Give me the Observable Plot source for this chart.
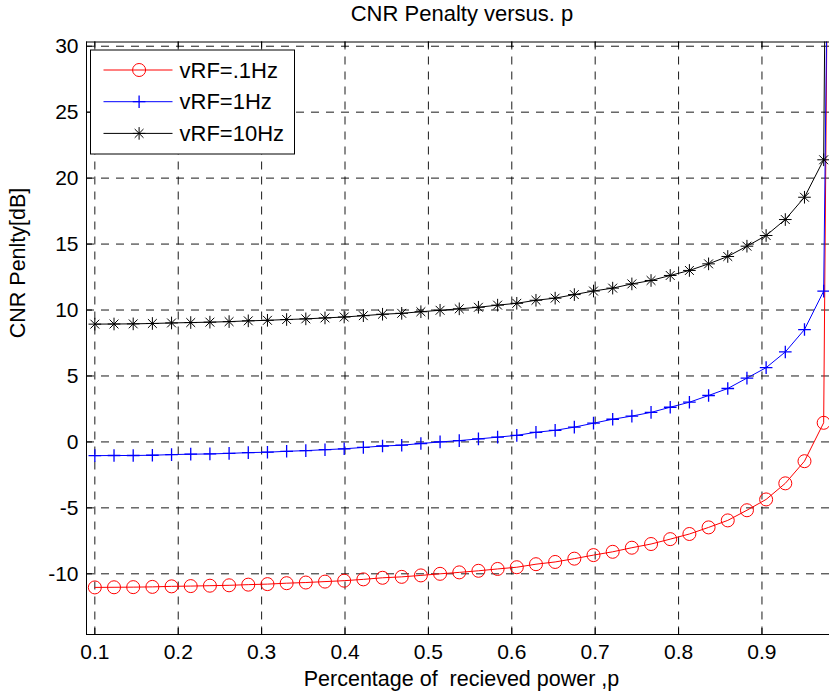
<!DOCTYPE html>
<html>
<head>
<meta charset="utf-8">
<style>
  html, body { margin: 0; padding: 0; background: #fff; overflow: hidden; }
  #title { height: 30px; line-height: 28px; box-sizing: border-box; padding-left: 95px; width: 829px;
           text-align: center; font-family: "Liberation Sans", Arial, sans-serif; font-size: 22px; color: #000; }
  svg text { white-space: pre; }
</style>
<script src="https://cdn.jsdelivr.net/npm/d3@7"></script>
<script src="https://cdn.jsdelivr.net/npm/@observablehq/plot@0.6"></script>
</head>
<body>
<div id="title">CNR Penalty versus. p</div>
<div id="chart"></div>
<script>
// ---- data ----
const p = [0.1, 0.123, 0.146, 0.169, 0.192, 0.215, 0.238, 0.261, 0.284, 0.307,
           0.33, 0.353, 0.376, 0.399, 0.422, 0.445, 0.468, 0.491, 0.514, 0.537,
           0.56, 0.583, 0.606, 0.629, 0.652, 0.675, 0.698, 0.721, 0.744, 0.767,
           0.79, 0.813, 0.836, 0.859, 0.882, 0.905, 0.928, 0.951, 0.974, 0.997];
const seriesNames = ["vRF=.1Hz", "vRF=1Hz", "vRF=10Hz"];
const vRF01 = [-11.03, -11.02, -11.01, -10.99, -10.95, -10.93, -10.9, -10.87, -10.82, -10.78,
               -10.71, -10.66, -10.59, -10.52, -10.42, -10.3, -10.23, -10.12, -10.0, -9.89,
               -9.77, -9.63, -9.5, -9.27, -9.1, -8.85, -8.58, -8.33, -8.02, -7.74,
               -7.37, -6.98, -6.48, -5.95, -5.18, -4.36, -3.14, -1.46, 1.45, 180];
const vRF1 = [-1.04, -1.03, -1.03, -1.01, -0.96, -0.93, -0.91, -0.87, -0.81, -0.78,
              -0.71, -0.66, -0.59, -0.52, -0.42, -0.31, -0.25, -0.12, 0.0, 0.1,
              0.23, 0.36, 0.5, 0.73, 0.88, 1.12, 1.42, 1.72, 1.96, 2.24,
              2.63, 3.01, 3.52, 4.05, 4.84, 5.63, 6.82, 8.52, 11.43, 140];
const vRF10 = [8.93, 8.94, 8.95, 8.98, 9.02, 9.05, 9.08, 9.12, 9.18, 9.22,
               9.28, 9.33, 9.4, 9.47, 9.57, 9.68, 9.75, 9.87, 9.98, 10.09,
               10.21, 10.37, 10.51, 10.74, 10.9, 11.17, 11.44, 11.66, 11.98, 12.24,
               12.62, 13.0, 13.5, 14.06, 14.84, 15.65, 16.86, 18.55, 21.39, 195];
const xTicks = [0.1, 0.2, 0.3, 0.4, 0.5, 0.6, 0.7, 0.8, 0.9];
const xTickLabels = ["0.1", "0.2", "0.3", "0.4", "0.5", "0.6", "0.7", "0.8", "0.9"];
const yTicks = [-10, -5, 0, 5, 10, 15, 20, 25, 30];
const yTickLabels = ["-10", "-5", "0", "5", "10", "15", "20", "25", "30"];
const xLabel = "Percentage of  recieved power ,p";
const yLabel = "CNR Penlty[dB]";
const colors = ["#ff0000", "#0000ff", "#000000"];

// ---- build table ----
const seriesValues = [vRF01, vRF1, vRF10];
const rows = [];
seriesValues.forEach((vals, s) => vals.forEach((v, i) => rows.push({p: p[i], v, s: seriesNames[s]})));
const bySeries = (name) => rows.filter(d => d.s === name);

const W = 829, H = 666;
const mL = 86, mR = 0, mT = 11.5, mB = 62;
const frameW = W - mL - mR, frameH = H - mT - mB;

const gridStyle = {stroke: "#000", strokeOpacity: 0.9, strokeWidth: 1, strokeDasharray: "8,7"};

const markerPaths = [
  null,
  "M-6.3,0H6.3M0,-6.3V6.3",
  "M-6.3,0H6.3M0,-6.3V6.3M-4.4,-4.4L4.4,4.4M-4.4,4.4L4.4,-4.4"
];

function legendMark(index, scales, values, dims) {
  const g = d3.create("svg:g");
  const bx = dims.marginLeft + 4.5, by = dims.marginTop + 8.5;
  g.append("rect").attr("x", bx).attr("y", by).attr("width", 204).attr("height", 104)
    .attr("fill", "white").attr("stroke", "black").attr("stroke-width", 1);
  seriesNames.forEach((name, i) => {
    const cy = by + 20 + i * 31.7;
    g.append("line").attr("x1", bx + 13).attr("x2", bx + 82).attr("y1", cy).attr("y2", cy)
      .attr("stroke", colors[i]).attr("stroke-width", 1);
    if (i === 0) {
      g.append("circle").attr("cx", bx + 48.6).attr("cy", cy).attr("r", 6.5)
        .attr("fill", "none").attr("stroke", colors[i]);
    } else {
      g.append("path").attr("d", markerPaths[i]).attr("transform", `translate(${bx + 48.6},${cy})`)
        .attr("fill", "none").attr("stroke", colors[i]).attr("stroke-width", i === 1 ? 1.3 : 1);
    }
    g.append("text").attr("x", bx + 89).attr("y", cy).attr("dy", "0.35em")
      .attr("text-anchor", "start").attr("font-size", 22)
      .attr("fill", "black").text(name);
  });
  return g.node();
}

const chart = Plot.plot({
  width: W, height: H,
  marginLeft: mL, marginRight: mR, marginTop: mT, marginBottom: mB,
  x: {domain: [0.09, 0.981]},
  y: {domain: [-14.6, 30.32]},
  style: {fontFamily: "'Liberation Sans', Arial, sans-serif", fontSize: "21px", background: "white", color: "black"},
  marks: [
    Plot.gridX(xTicks, gridStyle),
    Plot.gridY(yTicks, gridStyle),
    // inward ticks
    Plot.ruleY(yTicks, {insetRight: frameW - 6, stroke: "black"}),
    Plot.ruleX(xTicks, {insetTop: frameH - 6, stroke: "black"}),
    Plot.ruleX(xTicks, {insetBottom: frameH - 6, stroke: "black"}),
    // series
    Plot.line(bySeries(seriesNames[0]), {x: "p", y: "v", stroke: colors[0], strokeWidth: 1, clip: true}),
    Plot.dot(bySeries(seriesNames[0]), {x: "p", y: "v", r: 6.5, stroke: colors[0], fill: "none", strokeWidth: 1, clip: true}),
    Plot.line(bySeries(seriesNames[1]), {x: "p", y: "v", stroke: colors[1], strokeWidth: 1, clip: true}),
    Plot.dot(bySeries(seriesNames[1]), {x: "p", y: "v", r: 4.15, symbol: "plus", stroke: colors[1], strokeWidth: 1.3, clip: true}),
    Plot.line(bySeries(seriesNames[2]), {x: "p", y: "v", stroke: colors[2], strokeWidth: 1, clip: true}),
    Plot.dot(bySeries(seriesNames[2]), {x: "p", y: "v", r: 4.15, symbol: "plus", stroke: colors[2], strokeWidth: 1, clip: true}),
    Plot.dot(bySeries(seriesNames[2]), {x: "p", y: "v", r: 4.1, symbol: "times", stroke: colors[2], strokeWidth: 1, clip: true}),
    // frame (top, left, bottom)
    Plot.frame({anchor: "top", stroke: "black"}),
    Plot.frame({anchor: "left", stroke: "black"}),
    Plot.frame({anchor: "bottom", stroke: "black"}),
    // axes
    Plot.axisX(xTicks, {tickSize: 0, tickPadding: 10, label: null, tickFormat: (d) => xTickLabels[xTicks.indexOf(d)]}),
    Plot.axisY(yTicks, {tickSize: 0, tickPadding: 8, label: null, tickFormat: (d) => yTickLabels[yTicks.indexOf(d)]}),
    Plot.text([xLabel], {text: d => d, frameAnchor: "bottom", dy: 51, dx: 3.5, fill: "black", fontSize: 21.5}),
    Plot.text([yLabel], {text: d => d, frameAnchor: "left", dx: -68, rotate: -90, fill: "black", fontSize: 21.5}),
    legendMark
  ]
});
document.getElementById("chart").appendChild(chart);
</script>
</body>
</html>
